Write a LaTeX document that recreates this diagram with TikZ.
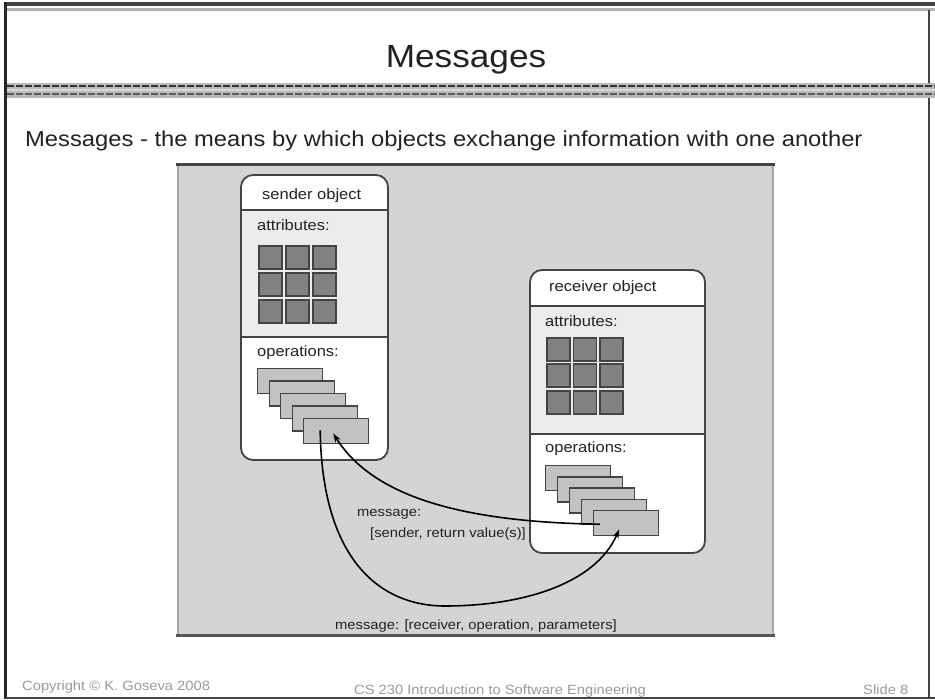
\documentclass[tikz,border=0pt]{standalone}
\usepackage{fontspec}
\setmainfont[FakeStretch=1.1]{Liberation Sans}
\usetikzlibrary{arrows.meta}
\definecolor{panelgray}{HTML}{D4D4D4}
\definecolor{bandgray}{HTML}{ECECEC}
\definecolor{cellgray}{HTML}{828282}
\definecolor{opgray}{HTML}{C2C2C2}
\definecolor{edgegray}{HTML}{444444}
\definecolor{foot}{HTML}{9A9A9A}
\definecolor{ink}{HTML}{222222}
\tikzset{
  objbox/.style={draw=edgegray, line width=1.8pt, rounded corners=12pt},
  cellbox/.style={draw=edgegray, fill=cellgray, line width=1.8pt, minimum width=23pt, minimum height=23pt, inner sep=0pt, anchor=north west},
  opbox/.style={draw=edgegray, fill=opgray, line width=1.4pt, minimum width=65pt, minimum height=25pt, inner sep=0pt, anchor=north west},
  lbl/.style={font=\fontsize{15}{17}\selectfont, text=ink, anchor=base west, inner sep=0pt},
  msg/.style={font=\fontsize{13.4}{15}\selectfont, text=ink, anchor=base west, inner sep=0pt},
  footer/.style={font=\fontsize{13.4}{15}\selectfont, text=foot, anchor=base west, inner sep=0pt},
  conn/.style={line width=1.6pt, draw=black, -{Stealth[length=9pt,width=6pt]}}
}
\begin{document}
\begin{tikzpicture}[x=1pt,y=-1pt]
\useasboundingbox (0,0) rectangle (935,700);
\fill[white] (0,0) rectangle (935,700);
% frame
\draw[edgegray, line width=4pt] (5,4) -- (935,4);
\draw[gray!60, line width=3pt] (7,10) -- (935,10);
\draw[black!85, line width=3pt] (5,2) -- (5,699);
\draw[edgegray, line width=2pt] (929,10) -- (929,699);
\draw[edgegray, line width=2.5pt] (5,698) -- (935,698);
% title
\node[font=\fontsize{32}{36}\selectfont, text=ink, anchor=base, inner sep=0pt] (title) at (466,68) {Messages};
% separator band
\fill[gray!55] (7,83) rectangle (935,98);
\draw[black!80, line width=2pt, dash pattern=on 7pt off 2pt] (7,86) -- (935,86);
\draw[gray!30, line width=2pt] (7,90) -- (935,90);
\draw[black!65, line width=2pt, dash pattern=on 7pt off 2pt] (7,94) -- (935,94);
% subtitle
\node[font=\fontsize{21.6}{24}\selectfont, text=ink, anchor=base west, inner sep=0pt] (sub) at (25,147) {Messages - the means by which objects exchange information with one another};
% panel
\fill[panelgray] (178,165) rectangle (773,635);
\draw[gray!70, line width=1.5pt] (178,165) -- (178,635);
\draw[gray!70, line width=1.5pt] (773,165) -- (773,635);
\draw[edgegray, line width=3pt] (176,165) -- (775,165);
\draw[edgegray!90, line width=3pt] (176,635) -- (775,635);
% sender object
\fill[white, rounded corners=12pt] (241,175) rectangle (388,460);
\fill[bandgray] (242,210) rectangle (387,337);
\draw[edgegray, line width=1.8pt] (241,210) -- (388,210);
\draw[edgegray, line width=1.8pt] (241,337) -- (388,337);
\draw[objbox] (241,175) rectangle (388,460);
\node[lbl] (sname) at (262,200) {sender object};
\node[lbl] (sattr) at (257,231) {attributes:};
\node[lbl] (sops) at (257,357) {operations:};
\foreach \i in {0,1,2}{\foreach \j in {0,1,2}{
  \node[cellbox] (sc\i\j) at (258+27*\i,245+27*\j) {};
}}
\foreach \k in {1,...,5}{
  \node[opbox] (s\k) at (257+11.5*\k-11.5,368+12.5*\k-12.5) {};
}
% receiver object
\fill[white, rounded corners=12pt] (530,270) rectangle (705,553);
\fill[bandgray] (531,306) rectangle (704,434);
\draw[edgegray, line width=1.8pt] (530,306) -- (705,306);
\draw[edgegray, line width=1.8pt] (530,434) -- (705,434);
\draw[objbox] (530,270) rectangle (705,553);
\node[lbl] (rname) at (549,292) {receiver object};
\node[lbl] (rattr) at (545,327) {attributes:};
\node[lbl] (rops) at (545,453) {operations:};
\foreach \i in {0,1,2}{\foreach \j in {0,1,2}{
  \node[cellbox] (rc\i\j) at (546+26.5*\i,337+26.5*\j) {};
}}
\foreach \k in {1,...,5}{
  \node[opbox] (r\k) at (545+12*\k-12,465+11.25*\k-11.25) {};
}
% connectors
\coordinate (bstart) at ([xshift=7pt,yshift=-1pt]r5.west);
\coordinate (bend) at ([xshift=-3pt,yshift=11pt]s5.south);
\draw[conn] (bstart) .. controls (450,522) and (370,492) .. (bend);
\coordinate (astart) at ([xshift=-16pt,yshift=14pt]s5.south);
\coordinate (aend) at ([xshift=-7pt,yshift=7pt]r5.south);
\draw[conn] (astart) .. controls (322,560) and (380,606) .. (445,606)
   .. controls (520,606) and (595,585) .. (aend);
% message labels
\node[msg] (m1a) at (357,517) {message:};
\node[msg] (m1b) at (370,537) {[sender, return value(s)]};
\node[msg] (m2) at (335,629) {message: [receiver, operation, parameters]};
% footer
\node[footer] (f1) at (22,690) {Copyright © K. Goseva 2008};
\node[footer, anchor=base] (f2) at (500,694) {CS 230 Introduction to Software Engineering};
\node[footer] (f3) at (863,694) {Slide 8};
\end{tikzpicture}
\end{document}
